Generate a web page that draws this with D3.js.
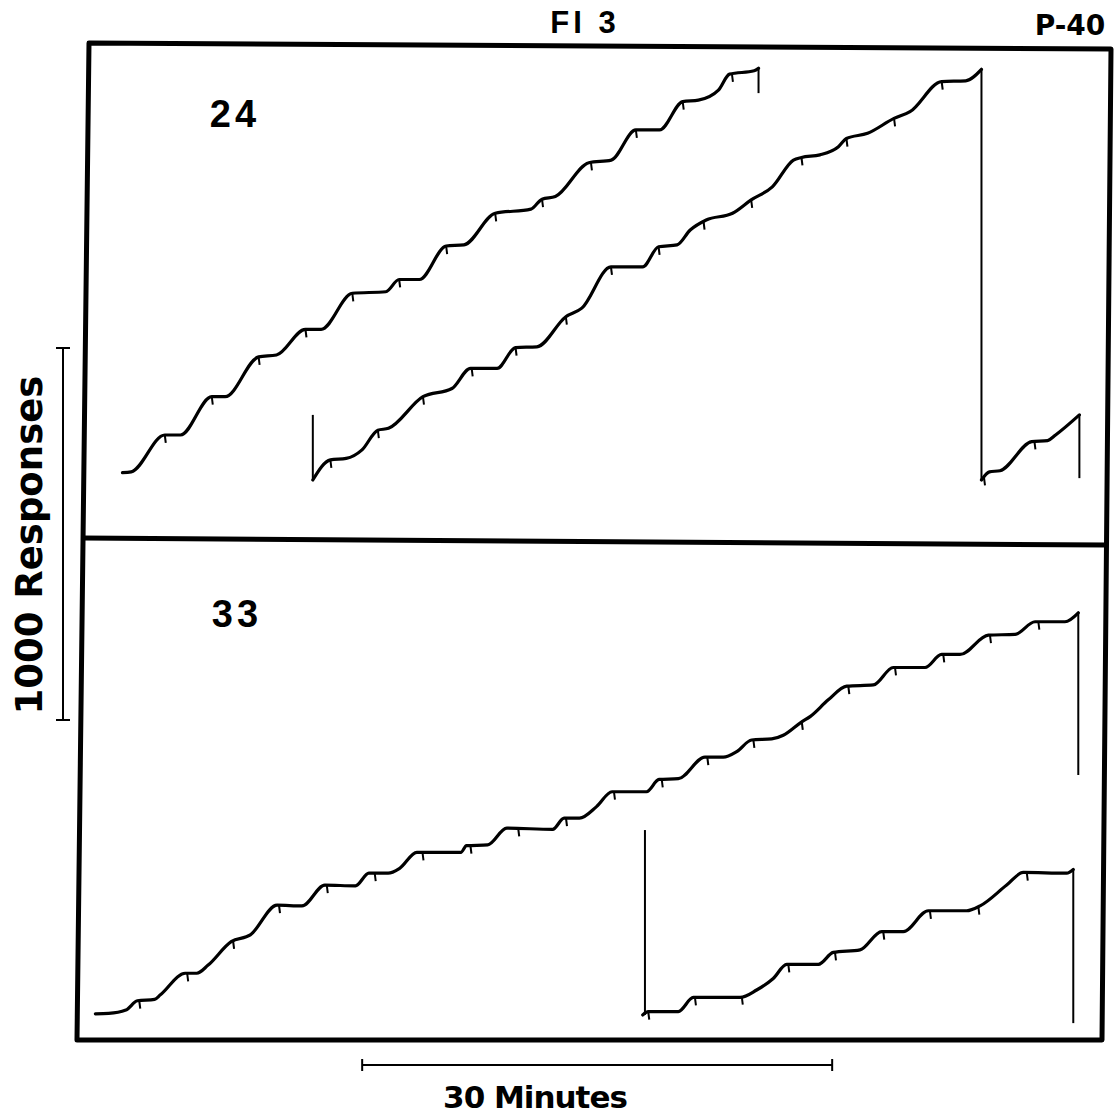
<!DOCTYPE html>
<html>
<head>
  <meta charset="utf-8">
  <script src="https://d3js.org/d3.v7.min.js"></script>
  <style>
    body { margin: 0; background: #fff; }
    svg { display: block; }
    .rec { fill: none; stroke: #000; stroke-width: 3.2; stroke-linejoin: round; stroke-linecap: round; }
    .reset { stroke: #000; stroke-width: 2; }
    .hash { stroke: #000; stroke-width: 2; }
    .geo { font-family: "DejaVu Sans", sans-serif; font-weight: bold; fill: #000; }
    .narrow { font-family: "Liberation Sans Narrow", "Liberation Sans", sans-serif; font-weight: bold; fill: #000; }
  </style>
</head>
<body>
<script>
// cumulative records, FI 3 schedule. [minutes, cumulative responses]
var topFirst = [[2.2,20],[2.76,22],[4.9,121],[5.9,121],[7.9,224],[8.75,224],[10.89,331],[12.03,336],
  [13.88,405],[14.88,405],[16.87,502],[19.01,506],[19.86,539],[21.15,539],[22.86,629],[23.99,632],
  [25.99,717],[28.27,728],[28.98,755],[29.83,762],[31.97,853],[33.4,860],[34.97,941],[36.48,941],
  [37.96,1017],[38.96,1021],[40.24,1048],[40.95,1091],[42.52,1100],[42.8,1107]];
var topSecond = [[14.35,0],[15.47,54],[16.48,58],[17.49,81],[18.5,134],[19.18,139],[21.38,224],[23.23,246],
  [24.42,300],[26.11,300],[27.29,356],[28.65,358],[30.5,439],[31.52,462],[33.38,573],[35.4,573],
  [36.42,627],[37.6,632],[38.44,672],[39.46,699],[41.14,717],[42.33,753],[43.68,788],[45.03,860],
  [45.54,867],[46.72,874],[47.9,896],[48.41,918],[49.76,932],[51.45,972],[52.47,990],[54.49,1071],
  [56.02,1073],[57.03,1104]];
var topThird = [[57.03,0],[57.54,22],[58.21,25],[60.24,103],[61.25,106],[61.76,121],[63.28,175]];
var botFirst = [[0.47,22],[1.32,23],[2.42,32],[3.15,57],[4.25,61],[4.62,73],[6.2,131],[6.94,131],
  [7.67,153],[9.14,216],[10.36,234],[12.07,314],[13.66,312],[15.12,368],[17.07,366],[17.93,400],
  [19.16,400],[19.89,413],[20.99,456],[23.8,456],[24.16,474],[25.51,476],[26.73,521],[29.66,518],
  [30.39,548],[31.37,548],[32.46,579],[33.45,619],[35.65,619],[36.45,652],[37.68,654],[39.38,712],
  [40.55,712],[41.41,727],[42.36,758],[43.64,761],[44.38,771],[45.56,807],[46.09,821],[47.25,866],
  [48.43,903],[50.13,906],[51.4,953],[53.43,953],[54.49,988],[55.66,988],[57.47,1040],[59.17,1042],
  [60.45,1076],[62.36,1076],[63.21,1100]];
var botSecond = [[35.41,19],[35.76,28],[37.68,28],[38.64,66],[41.62,66],[42.68,86],[43.74,117],
  [44.6,155],[46.62,155],[47.57,187],[49.28,194],[50.66,243],[52.04,243],[53.64,299],[56.09,299],
  [56.94,312],[58.64,368],[59.7,402],[62.47,400],[62.89,410]];

// reinforcement marks (minutes)
var topFirstHash = [4.9,7.9,10.89,13.88,16.87,19.86,22.86,25.99,28.98,32.1,34.97,37.96,41.1];
var topSecondHash = [15.47,18.5,21.38,24.49,27.29,30.5,33.38,36.42,39.29,42.33,45.54,48.41,51.45,54.49];
var topThirdHash = [57.19,60.41];
var botFirstHash = [3.27,6.33,9.26,12.19,15.24,18.3,21.35,24.41,27.46,30.51,33.57,36.62,39.53,42.47,
  45.56,48.53,51.51,54.59,57.57,60.66];
var botSecondHash = [35.76,38.74,41.73,44.7,47.68,50.76,53.74,56.83,59.92];

// pen resets / event pen: [minutes, from, to]
var topResets = [[42.8,1107,1040],[14.35,175,0],[57.03,1104,0],[63.28,175,5]];
var botResets = [[63.21,1100,664],[35.55,516,19],[62.89,410,-3]];

var W = 1118, H = 1114;
var svg = d3.select("body").append("svg").attr("width", W).attr("height", H);

var x = d3.scaleLinear().domain([0, 65]).range([88, 88 + 65 * 470 / 30]);
var yTop = d3.scaleLinear().domain([0, 1000]).range([480, 108]);
var yBot = d3.scaleLinear().domain([0, 1000]).range([1022, 650]);

// frame (scan is a little skewed)
var frame = {tl: [89, 43], tr: [1111, 49], br: [1102, 1040], bl: [77, 1040], ml: [83, 538], mr: [1106, 545]};
svg.append("path")
  .attr("d", "M" + [frame.tl, frame.tr, frame.br, frame.bl].join("L") + "Z")
  .attr("fill", "none").attr("stroke", "#000").attr("stroke-width", 5).attr("stroke-linejoin", "round");
svg.append("path")
  .attr("d", "M" + frame.ml + "L" + frame.mr)
  .attr("stroke", "#000").attr("stroke-width", 5);

function interp(pts, t) {
  for (var i = 1; i < pts.length; i++) {
    if (t <= pts[i][0]) {
      var a = pts[i - 1], b = pts[i], f = (t - a[0]) / (b[0] - a[0] || 1);
      return a[1] + f * (b[1] - a[1]);
    }
  }
  return pts[pts.length - 1][1];
}

function drawRecord(pts, hashes, y) {
  var line = d3.line().curve(d3.curveMonotoneX)
    .x(function (d) { return x(d[0]); }).y(function (d) { return y(d[1]); });
  svg.append("path").attr("class", "rec").attr("d", line(pts));
  svg.selectAll(null).data(hashes).enter().append("line")
    .attr("class", "hash")
    .attr("x1", function (t) { return x(t); })
    .attr("y1", function (t) { return y(interp(pts, t)); })
    .attr("x2", function (t) { return x(t) + 1; })
    .attr("y2", function (t) { return y(interp(pts, t)) + 8; });
}

function drawResets(rs, y) {
  svg.selectAll(null).data(rs).enter().append("line")
    .attr("class", "reset")
    .attr("x1", function (d) { return x(d[0]); })
    .attr("x2", function (d) { return x(d[0]); })
    .attr("y1", function (d) { return y(d[1]); })
    .attr("y2", function (d) { return y(d[2]); });
}

drawResets(topResets, yTop);
drawResets(botResets, yBot);
drawRecord(topFirst, topFirstHash, yTop);
drawRecord(topSecond, topSecondHash, yTop);
drawRecord(topThird, topThirdHash, yTop);
drawRecord(botFirst, botFirstHash, yBot);
drawRecord(botSecond, botSecondHash, yBot);

// panel labels
svg.append("text").attr("class", "narrow").attr("x", 235).attr("y", 127)
  .attr("text-anchor", "middle").attr("font-size", 38).attr("letter-spacing", 4).text("24");
svg.append("text").attr("class", "narrow").attr("x", 237).attr("y", 627)
  .attr("text-anchor", "middle").attr("font-size", 38).attr("letter-spacing", 4).text("33");
svg.append("text").attr("class", "narrow").attr("x", 585).attr("y", 33)
  .attr("text-anchor", "middle").attr("font-size", 31).attr("letter-spacing", 4).text("FI 3");
svg.append("text").attr("class", "geo").attr("x", 1070).attr("y", 35)
  .attr("text-anchor", "middle").attr("font-size", 28).text("P-40");

// calibration bars
var k = d3.scaleLinear().domain([0, 1000]).range([0, 372]);
var ry0 = 720, rx = 63;
svg.append("line").attr("x1", rx).attr("x2", rx).attr("y1", ry0).attr("y2", ry0 - k(1000))
  .attr("stroke", "#000").attr("stroke-width", 2);
[ry0, ry0 - k(1000)].forEach(function (v) {
  svg.append("line").attr("x1", rx - 7).attr("x2", rx + 7).attr("y1", v).attr("y2", v)
    .attr("stroke", "#000").attr("stroke-width", 2);
});
svg.append("text").attr("class", "geo")
  .attr("transform", "translate(42," + (ry0 - k(470)) + ") rotate(-90)")
  .attr("text-anchor", "middle").attr("font-size", 37).text("1000 Responses");

var by = 1065;
svg.append("line").attr("x1", x(17.5)).attr("x2", x(47.5)).attr("y1", by).attr("y2", by)
  .attr("stroke", "#000").attr("stroke-width", 2);
[17.5, 47.5].forEach(function (t) {
  svg.append("line").attr("x1", x(t)).attr("x2", x(t)).attr("y1", by - 6).attr("y2", by + 6)
    .attr("stroke", "#000").attr("stroke-width", 2);
});
svg.append("text").attr("class", "geo").attr("x", 535).attr("y", 1108)
  .attr("text-anchor", "middle").attr("font-size", 31).attr("letter-spacing", -1).text("30 Minutes");
</script>
</body>
</html>
